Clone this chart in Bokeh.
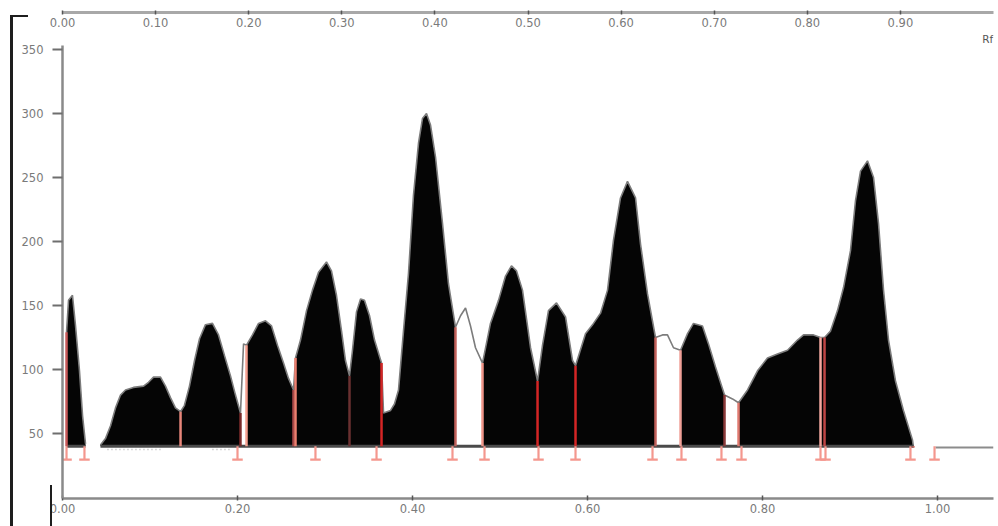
import numpy as np
from bokeh.plotting import figure
from bokeh.models import Range1d, LinearAxis, FixedTicker, NumeralTickFormatter, Div
from bokeh.layouts import column
from bokeh.embed import file_html
from bokeh.resources import INLINE
from bokeh.core.properties import value

# ---------------- data (Rf position on lower scale, intensity) ----------------
front_x = [0.0046, 0.0069, 0.0114, 0.0149, 0.0194, 0.0229, 0.0263]
front_y = [129, 154, 158, 134, 99, 64, 42]

trace_x = [0.0434, 0.0491, 0.0549, 0.0606, 0.0663, 0.0720, 0.0811, 0.0926, 0.0983, 0.1040,
           0.1120, 0.1177, 0.1234, 0.1291, 0.1349, 0.1394, 0.1451, 0.1509, 0.1566, 0.1634,
           0.1714, 0.1783, 0.1851, 0.1920, 0.1977, 0.2034, 0.2069, 0.2103, 0.2171, 0.2240,
           0.2320, 0.2389, 0.2457, 0.2526, 0.2583, 0.2640, 0.2663, 0.2720, 0.2789, 0.2857,
           0.2926, 0.3017, 0.3074, 0.3131, 0.3189, 0.3234, 0.3280, 0.3314, 0.3360, 0.3406,
           0.3451, 0.3509, 0.3566, 0.3646, 0.3669, 0.3749, 0.3794, 0.3840, 0.3897, 0.3954,
           0.4011, 0.4069, 0.4114, 0.4160, 0.4206, 0.4263, 0.4343, 0.4411, 0.4491, 0.4549,
           0.4606, 0.4663, 0.4720, 0.4800, 0.4891, 0.4983, 0.5063, 0.5131, 0.5189, 0.5257,
           0.5349, 0.5429, 0.5486, 0.5554, 0.5646, 0.5749, 0.5829, 0.5863, 0.5977, 0.6069,
           0.6149, 0.6229, 0.6297, 0.6377, 0.6457, 0.6549, 0.6606, 0.6686, 0.6777, 0.6857,
           0.6914, 0.6983, 0.7063, 0.7143, 0.7211, 0.7314, 0.7383, 0.7463, 0.7566, 0.7657,
           0.7726, 0.7829, 0.7943, 0.8057, 0.8171, 0.8286, 0.8400, 0.8469, 0.8583, 0.8663,
           0.8709, 0.8777, 0.8857, 0.8926, 0.9006, 0.9063, 0.9120, 0.9200, 0.9269, 0.9326,
           0.9383, 0.9440, 0.9520, 0.9611, 0.9714, 0.9726]
trace_y = [41, 46, 56, 70, 80, 84, 86, 87, 90, 94,
           94, 87, 78, 70, 67, 72, 87, 107, 124, 135,
           136, 127, 111, 95, 80, 66, 120, 119, 127, 136,
           138, 134, 119, 105, 93, 84, 109, 123, 146, 162,
           176, 184, 177, 158, 130, 107, 95, 115, 145, 155,
           154, 142, 123, 105, 66, 68, 73, 84, 130, 175,
           236, 277, 296, 300, 291, 266, 214, 167, 133, 142,
           148, 134, 117, 105, 136, 154, 173, 181, 177, 162,
           117, 91, 119, 146, 152, 141, 107, 103, 128, 136,
           144, 162, 201, 234, 247, 234, 198, 159, 125, 127,
           127, 117, 115, 128, 136, 134, 120, 102, 80, 77,
           74, 84, 99, 109, 112, 115, 123, 127, 127, 125,
           125, 130, 146, 164, 193, 232, 255, 263, 250, 214,
           162, 123, 91, 68, 45, 39]

baseline_level = 40
tail_x = [0.9977, 1.064]
tail_y = [39, 39]

band_start = [0.0046, 0.0434, 0.2103, 0.4800, 0.7063, 0.7726]
band_end = [0.0263, 0.2034, 0.4491, 0.6777, 0.7566, 0.9726]

cut_x = [0.0046, 0.1349, 0.2034, 0.2103, 0.2640, 0.2663, 0.3280, 0.3646, 0.4491, 0.4800,
         0.5429, 0.5863, 0.6777, 0.7063, 0.7566, 0.7726, 0.8663, 0.8709, 0.9726]
cut_color = ["#c85a5a", "#e8867a", "#7a2a2a", "#f4a090", "#a84848", "#ec8070", "#6a3030",
             "#d42525", "#c0605a", "#f09488", "#d42525", "#d42525", "#c0605a", "#f0a098",
             "#8a3a3a", "#e07a70", "#f4a8a0", "#c04545", "#e06a60"]

mark_x = [0.0046, 0.0251, 0.2000, 0.2891, 0.3589, 0.4457, 0.4823, 0.5440, 0.5863, 0.6743,
          0.7074, 0.7531, 0.7760, 0.8663, 0.8720, 0.9691, 0.9966]
mark_low = 29.5

dot_x0 = [0.0514, 0.1714]
dot_x1 = [0.1154, 0.1920]
dot_level = 37.5

left_ticks = [50, 100, 150, 200, 250, 300, 350]
bottom_ticks = [0.0, 0.2, 0.4, 0.6, 0.8, 1.0]
top_ticks = [0.0, 0.1, 0.2, 0.3, 0.4, 0.5, 0.6, 0.7, 0.8, 0.9]

# ---------------- figure ----------------
FONT = "DejaVu Sans"
LABEL_SIZE = "11.5px"
LABEL_COLOR = "#7a7a7a"
p = figure(width=998, height=524, x_range=Range1d(0, 1.064), y_range=Range1d(-0.8, 378.9),
           output_backend="svg", toolbar_location=None,
           min_border_left=62, min_border_right=5, min_border_top=12, min_border_bottom=26)
p.outline_line_color = None
p.grid.visible = False
p.background_fill_color = "white"
p.border_fill_color = "white"

all_x = np.array(front_x + trace_x)
all_y = np.array(front_y + trace_y, dtype=float)

for s, e in zip(band_start, band_end):
    inner = all_x[(all_x > s) & (all_x < e)]
    xs = np.concatenate([[s], inner, [e]])
    ys = np.interp(xs, all_x, all_y)
    p.varea(x=xs, y1=np.full(len(xs), baseline_level), y2=ys, fill_color="#050505")

p.line(front_x, front_y, line_color="#7c7c7c", line_width=1.6)
p.line(trace_x, trace_y, line_color="#7c7c7c", line_width=1.6)

# baseline
p.segment(x0=[front_x[0], trace_x[0]], y0=[baseline_level] * 2,
          x1=[front_x[-1], trace_x[-1]], y1=[baseline_level] * 2,
          line_color="#4a4a4a", line_width=3)
p.line(tail_x, tail_y, line_color="#8c8c8c", line_width=2)

# faint dotted trace below baseline
p.segment(x0=dot_x0, y0=[dot_level] * 2, x1=dot_x1, y1=[dot_level] * 2,
          line_color="#b4b4b4", line_width=1.5, line_dash="1 3")

# cut lines
cut_top = np.interp(cut_x, all_x, all_y)
p.segment(x0=cut_x, y0=[baseline_level] * len(cut_x), x1=cut_x, y1=cut_top,
          line_color=cut_color, line_width=2.5)

# markers under the baseline
mx = np.array(mark_x)
p.segment(x0=mx, y0=[baseline_level] * len(mx), x1=mx, y1=[mark_low] * len(mx),
          line_color="#f4978e", line_width=2.2)
p.segment(x0=mx - 0.006, y0=[mark_low] * len(mx), x1=mx + 0.006, y1=[mark_low] * len(mx),
          line_color="#f4978e", line_width=2.2)

p.text(x=[1.051], y=[358], text=["Rf"], text_font=value(FONT), text_font_size="10.5px",
       text_color="#555555", text_baseline="middle", text_align="left")

# axes
yax = p.yaxis[0]
yax.ticker = FixedTicker(ticks=left_ticks)
yax.bounds = (-1, 353)
yax.axis_line_color = "#8a8a8a"
yax.axis_line_width = 2.5
yax.major_tick_out = 10
yax.major_tick_in = 0
yax.major_tick_line_color = "#6e6e6e"
yax.major_tick_line_width = 2
yax.minor_tick_line_color = None
yax.major_label_standoff = 9
yax.major_label_text_font = FONT
yax.major_label_text_font_size = LABEL_SIZE
yax.major_label_text_color = LABEL_COLOR

xax = p.xaxis[0]
xax.ticker = FixedTicker(ticks=bottom_ticks)
xax.formatter = NumeralTickFormatter(format="0.00")
xax.axis_line_color = "#8a8a8a"
xax.axis_line_width = 2.5
xax.major_tick_out = 2
xax.major_tick_in = 3
xax.major_tick_line_color = "#555555"
xax.major_tick_line_width = 1.5
xax.minor_tick_line_color = None
xax.major_label_standoff = 3
xax.major_label_text_font = FONT
xax.major_label_text_font_size = LABEL_SIZE
xax.major_label_text_color = LABEL_COLOR

p.extra_x_ranges = {"rf": Range1d(0, 1.0)}
top = LinearAxis(x_range_name="rf", ticker=FixedTicker(ticks=top_ticks),
                 formatter=NumeralTickFormatter(format="0.00"))
top.axis_line_color = "#a8a8a8"
top.axis_line_width = 3
top.major_tick_out = 2
top.major_tick_in = 2
top.major_tick_line_color = "#555555"
top.major_tick_line_width = 1.5
top.minor_tick_line_color = None
top.major_label_standoff = -16
top.major_label_text_font = FONT
top.major_label_text_font_size = LABEL_SIZE
top.major_label_text_color = LABEL_COLOR
p.add_layout(top, "above")

# dark scan-edge strokes at the left of the picture
edge = Div(width=998, height=2, text=(
    '<div style="position:absolute;left:5px;top:-514px;width:3px;height:516px;background:#1e1e1e"></div>'
    '<div style="position:absolute;left:5px;top:-514px;width:18px;height:2px;background:#1e1e1e"></div>'
    '<div style="position:absolute;left:45px;top:-44px;width:2px;height:46px;background:#1e1e1e"></div>'
))

open("out.html", "w").write(file_html(column(p, edge), INLINE))
